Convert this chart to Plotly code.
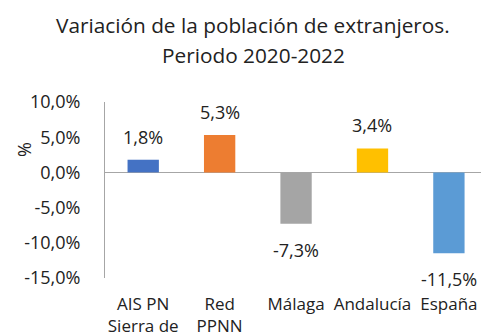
import plotly.graph_objects as go

# Datos: variación de la población extranjera 2020-2022 (%)
categorias = ["AIS PN<br>Sierra de", "Red<br>PPNN", "Málaga", "Andalucía", "España"]
variacion = [1.8, 5.3, -7.3, 3.4, -11.5]
colores = ["#4472C4", "#ED7D31", "#A5A5A5", "#FFC000", "#5B9BD5"]
ticks_y = [-15, -10, -5, 0, 5, 10]
titulo = ["Variación de la población de extranjeros.", "Periodo 2020-2022"]

FUENTE = "Open Sans"
TEXTO = "#222222"
EJE = "#A6A6A6"
W, H = 481, 332
L, T, B = 105, 102, 54


def fmt_pct(v):
    return f"{v:.1f}%".replace(".", ",")


fig = go.Figure(
    go.Bar(
        x=list(range(len(categorias))),
        y=variacion,
        marker=dict(color=colores, line=dict(width=0)),
        width=0.41,
        hoverinfo="skip",
    )
)

# Etiquetas de valor por encima / por debajo de cada barra
anotaciones = []
for i, v in enumerate(variacion):
    anotaciones.append(
        dict(
            x=i, y=v, xref="x", yref="y",
            text=fmt_pct(v), showarrow=False,
            xanchor="center", yanchor="middle",
            yshift=23 if v >= 0 else -26,
            font=dict(family=FUENTE, size=18, color=TEXTO),
        )
    )

# Título en dos líneas (posición en píxeles -> fracción del papel)
for linea, ypix in zip(titulo, [25, 55]):
    anotaciones.append(
        dict(
            x=(253 - L) / (W - L), y=(H - B - ypix) / (H - B - T),
            xref="paper", yref="paper",
            text=linea, showarrow=False,
            xanchor="center", yanchor="middle",
            font=dict(family=FUENTE, size=20.8, color=TEXTO),
        )
    )

# Título del eje Y
anotaciones.append(
    dict(
        x=(24 - L) / (W - L), y=(H - B - 150) / (H - B - T),
        xref="paper", yref="paper",
        text="%", showarrow=False, textangle=-90,
        xanchor="center", yanchor="middle",
        font=dict(family=FUENTE, size=18, color=TEXTO),
    )
)

fig.update_layout(
    width=W, height=H,
    margin=dict(l=L, r=0, t=T, b=B, pad=0),
    paper_bgcolor="white", plot_bgcolor="white",
    showlegend=False,
    bargap=0.5,
    xaxis=dict(
        range=[-0.5, 4.42],
        tickvals=list(range(len(categorias))),
        ticktext=categorias,
        showline=False, showgrid=False, zeroline=False,
        ticks="", ticklabelstandoff=14,
        tickfont=dict(family=FUENTE, size=17, color=TEXTO),
        automargin=False, fixedrange=True,
    ),
    yaxis=dict(
        range=[-15, 10],
        tickvals=ticks_y,
        ticktext=[fmt_pct(t) for t in ticks_y],
        showline=True, linecolor=EJE, linewidth=1,
        showgrid=False,
        zeroline=True, zerolinecolor=EJE, zerolinewidth=1,
        ticks="", ticklabelstandoff=20,
        tickfont=dict(family=FUENTE, size=18, color=TEXTO),
        automargin=False, fixedrange=True,
    ),
    annotations=anotaciones,
)

fig.write_html("out.html", config={"displayModeBar": False})
